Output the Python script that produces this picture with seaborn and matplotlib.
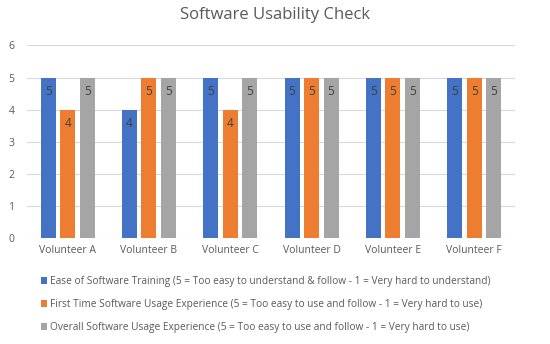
import matplotlib
matplotlib.use("Agg")
import matplotlib.pyplot as plt
import seaborn as sns
import pandas as pd

categories = ["Volunteer A", "Volunteer B", "Volunteer C", "Volunteer D", "Volunteer E", "Volunteer F"]
series_names = [
    "Ease of Software Training (5 = Too easy to understand & follow - 1 = Very hard to understand)",
    "First Time Software Usage Experience (5 = Too easy to use and follow - 1 = Very hard to use)",
    "Overall Software Usage Experience (5 = Too easy to use and follow - 1 = Very hard to use)",
]
ease_training = [5, 4, 5, 5, 5, 5]
first_time = [4, 5, 4, 5, 5, 5]
overall = [5, 5, 5, 5, 5, 5]
colors = ["#4472C4", "#ED7D31", "#A5A5A5"]

rows = []
for name, vals in zip(series_names, [ease_training, first_time, overall]):
    for c, v in zip(categories, vals):
        rows.append({"Volunteer": c, "Series": name, "Score": v})
df = pd.DataFrame(rows)

sns.set_theme(style="white")
plt.rcParams['font.family'] = ['Open Sans', 'DejaVu Sans']

fig = plt.figure(figsize=(5.5, 3.44), dpi=100)
ax = fig.add_axes([0.049, 0.308, 0.887, 0.56])
sns.barplot(data=df, x="Volunteer", y="Score", hue="Series", palette=colors,
            width=0.72, gap=0.23, ax=ax, legend=True, saturation=1, linewidth=0)

ax.set_ylim(0, 6)
ax.set_xlim(-0.5, 5.5)
ax.set_yticks(range(0, 7))
ax.yaxis.grid(True, color="#D9D9D9", linewidth=0.8)
ax.set_axisbelow(True)
for s in ax.spines.values():
    s.set_visible(False)
ax.set_xlabel("")
ax.set_ylabel("")
ax.tick_params(axis="x", length=0, labelsize=7.5, colors="#595959", pad=5)
ax.tick_params(axis="y", length=0, labelsize=7.5, colors="#595959", pad=9)

for cont in ax.containers:
    ax.bar_label(cont, label_type="edge", padding=-15, fontsize=8.5, color="#404040")

handles, labels = ax.get_legend_handles_labels()
ax.legend_.remove()
fig.legend(handles, labels, loc="upper left", bbox_to_anchor=(0.074, 0.198), frameon=False,
           fontsize=7.3, labelcolor="#595959", handlelength=0.65, handleheight=0.65,
           handletextpad=0.3, labelspacing=1.2, borderaxespad=0, borderpad=0)

fig.text(0.5, 0.955, "Software Usability Check", ha="center", va="center", fontsize=12, color="#595959")

fig.savefig("out.png", dpi=100)
